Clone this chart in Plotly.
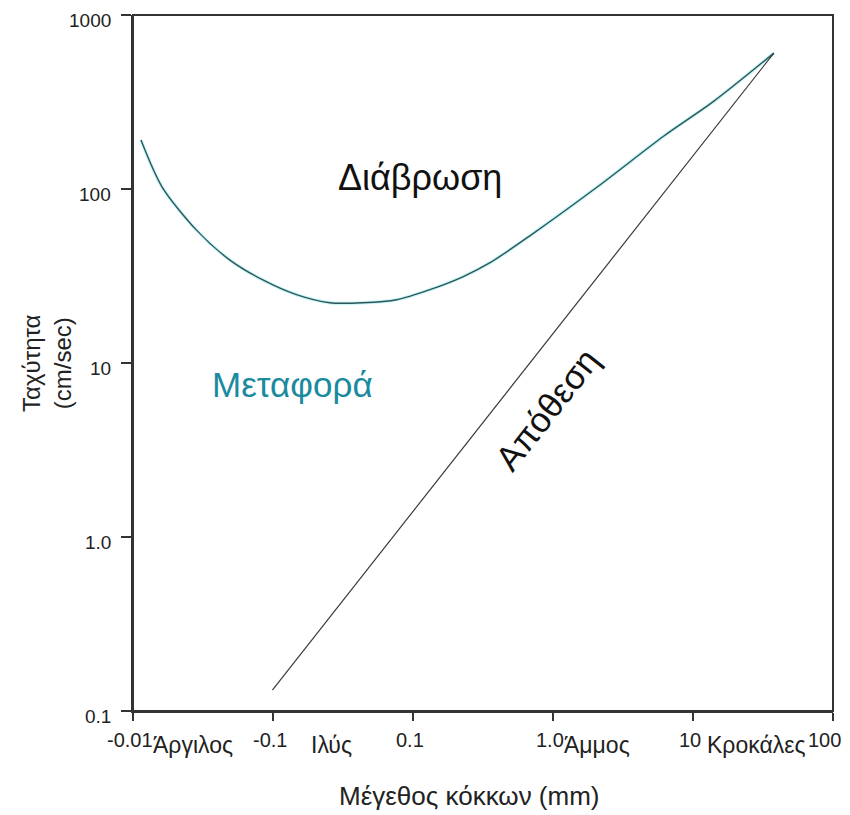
import numpy as np
import plotly.graph_objects as go

# Erosion curve (grain size mm, velocity cm/s)
erosion_x = [0.00114, 0.00161, 0.00282, 0.00487, 0.0084, 0.0147, 0.0254, 0.0437,
             0.0765, 0.132, 0.227, 0.355, 0.687, 2.08, 6.16, 14.1, 37.8]
erosion_y = [191, 103, 58.4, 39.3, 30.1, 24.7, 22.2, 22.2,
             23.1, 26.4, 31.3, 37.7, 54.0, 103, 201, 320, 604]

# Deposition line
deposition_x = [0.0099, 37.8]
deposition_y = [0.132, 604]

x_tickvals = [0.001, 0.01, 0.1, 1, 10, 100]
x_ticktext = ["-0.01", "-0.1", "0.1", "1.0", "10", "100"]
y_tickvals = [0.1, 1, 10, 100, 1000]
y_ticktext = ["0.1", "1.0", "10", "100", "1000"]

class_names = ["Άργιλος", "Ιλύς", "Άμμος", "Κροκάλες"]
class_x = [0.0027, 0.026, 2.06, 28.6]

FONT = "Arial, Liberation Sans, sans-serif"
TXT = "#222222"

fig = go.Figure()
# faint halo under erosion curve
fig.add_trace(go.Scatter(x=erosion_x, y=erosion_y, mode="lines",
                         line=dict(color="rgba(60,225,235,0.30)", width=3.5, shape="spline", smoothing=0.8),
                         hoverinfo="skip", showlegend=False))
fig.add_trace(go.Scatter(x=erosion_x, y=erosion_y, mode="lines",
                         line=dict(color="#2f5557", width=1.4, shape="spline", smoothing=0.8),
                         showlegend=False))
fig.add_trace(go.Scatter(x=deposition_x, y=deposition_y, mode="lines",
                         line=dict(color="#3a3a3a", width=1.2),
                         showlegend=False))

annotations = [
    dict(x=np.log10(0.112), y=np.log10(117), xref="x", yref="y", text="Διάβρωση",
         showarrow=False, xanchor="center", yanchor="middle",
         font=dict(family=FONT, size=36, color="#111111")),
    dict(x=np.log10(0.0137), y=np.log10(7.5), xref="x", yref="y", text="Μεταφορά",
         showarrow=False, xanchor="center", yanchor="middle",
         font=dict(family=FONT, size=35, color="#1b8a9e")),
    dict(x=np.log10(0.906), y=np.log10(5.37), xref="x", yref="y", text="Απόθεση",
         showarrow=False, textangle=-51.8, xanchor="center", yanchor="middle",
         font=dict(family=FONT, size=35, color="#111111")),
    dict(x=-0.1229, y=0.5, xref="paper", yref="paper", text="Ταχύτητα<br>(cm/sec)",
         showarrow=False, textangle=-90, xanchor="center", yanchor="middle",
         font=dict(family=FONT, size=24, color=TXT)),
    dict(x=0.481, y=-0.122, xref="paper", yref="paper", text="Μέγεθος κόκκων (mm)",
         showarrow=False, xanchor="center", yanchor="middle",
         font=dict(family=FONT, size=26, color=TXT)),
]
# grain-class labels
for name, cx in zip(class_names, class_x):
    annotations.append(dict(x=np.log10(cx), y=-0.049, xref="x", yref="paper", text=name,
                            showarrow=False, xanchor="center", yanchor="middle",
                            font=dict(family=FONT, size=23, color=TXT)))
# x tick labels (drawn as annotations so the last one stays inside the page)
for i, (tv, tt) in enumerate(zip(x_tickvals, x_ticktext)):
    annotations.append(dict(x=np.log10(tv), y=-0.042, xref="x", yref="paper", text=tt,
                            showarrow=False, xanchor="center", yanchor="middle",
                            xshift=(-9 if i == len(x_tickvals) - 1 else -3),
                            font=dict(family=FONT, size=20, color=TXT)))
# y tick labels (slightly below their ticks, as in the reference)
for tv, tt in zip(y_tickvals, y_ticktext):
    annotations.append(dict(x=-0.0286, y=np.log10(tv), xref="paper", yref="y", text=tt,
                            showarrow=False, xanchor="right", yanchor="middle", yshift=-5,
                            font=dict(family=FONT, size=19, color=TXT)))

# page body adds an 8px offset: size the figure so the plot lands where the reference has it
fig.update_layout(
    width=842, height=807,
    margin=dict(l=125, r=17, t=7, b=104),
    paper_bgcolor="white", plot_bgcolor="white",
    font=dict(family=FONT, color=TXT),
    annotations=annotations,
    shapes=[dict(type="rect", xref="paper", yref="paper", x0=0, y0=0, x1=1, y1=1,
                 line=dict(color="#333333", width=2), layer="above")],
)
fig.update_xaxes(type="log", range=[-3, 2], tickvals=x_tickvals, showticklabels=False,
                 automargin=False,
                 showgrid=False, zeroline=False, showline=True, linecolor="#333333", linewidth=2,
                 ticks="outside", ticklen=8, tickwidth=2, tickcolor="#333333")
fig.update_yaxes(type="log", range=[-1, 3], tickvals=y_tickvals, showticklabels=False,
                 automargin=False,
                 showgrid=False, zeroline=False, showline=True, linecolor="#333333", linewidth=2,
                 ticks="outside", ticklen=10, tickwidth=2, tickcolor="#333333")

fig.write_html("out.html")
